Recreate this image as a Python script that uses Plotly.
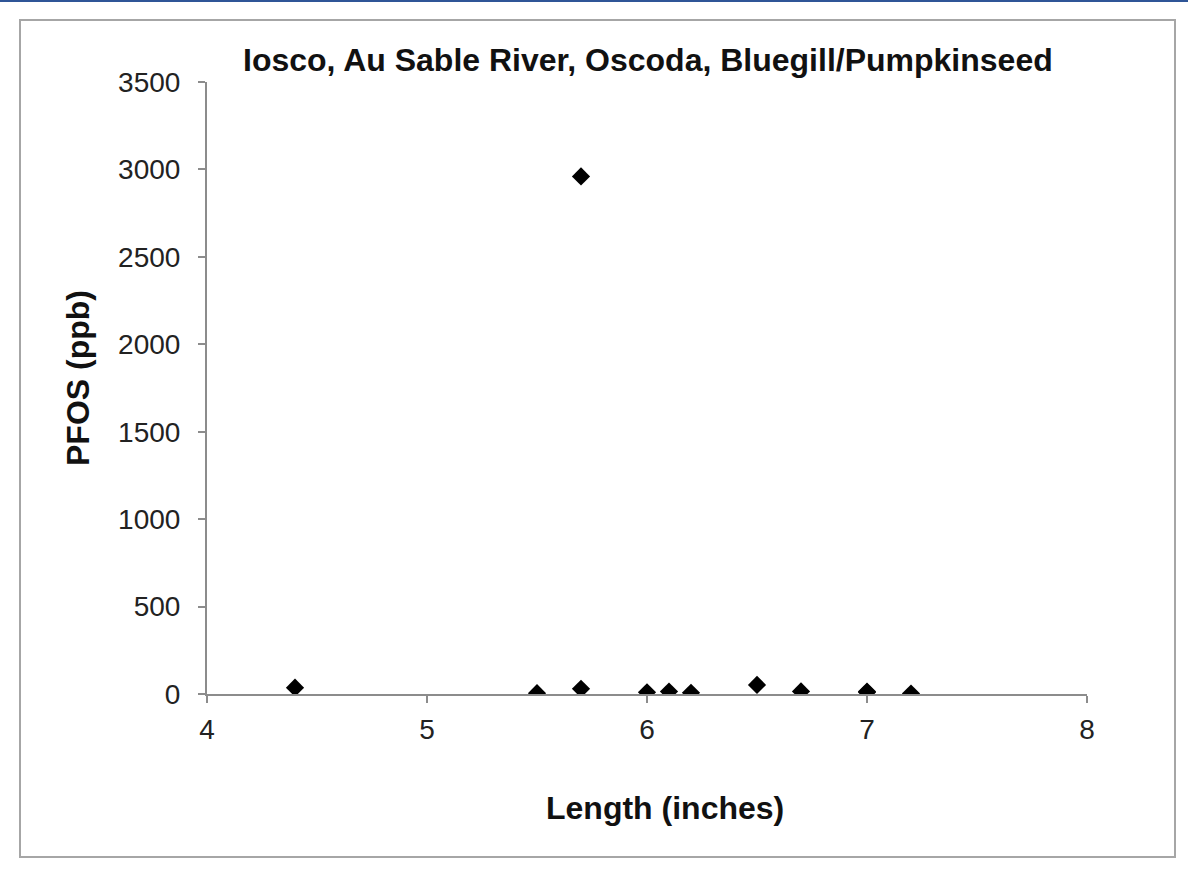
import plotly.graph_objects as go

# Fish length (inches) and PFOS concentration (ppb)
length_in = [4.4, 5.5, 5.7, 5.7, 6.0, 6.1, 6.2, 6.5, 6.7, 7.0, 7.0, 7.2]
pfos_ppb = [36, 5, 30, 2960, 10, 14, 7, 52, 15, 14, 10, 3]

title_text = "Iosco, Au Sable River, Oscoda, Bluegill/Pumpkinseed"
x_title = "Length (inches)"
y_title = "PFOS (ppb)"
x_ticks = [4, 5, 6, 7, 8]
y_ticks = [0, 500, 1000, 1500, 2000, 2500, 3000, 3500]

W, H = 1188, 886
L, R, T, B = 207, 1087, 82, 694  # plot area edges in pixels
pw, ph = R - L, B - T


def px(xp):
    return (xp - L) / pw


def py(yp):
    return (B - yp) / ph


font_family = "Liberation Sans, Arial, sans-serif"
axis_color = "#8c8c8c"

fig = go.Figure()
fig.add_trace(go.Scatter(
    x=length_in, y=pfos_ppb, mode="markers",
    marker=dict(symbol="diamond", size=14, color="black"),
    showlegend=False,
))

fig.update_layout(
    width=W, height=H,
    margin=dict(l=L, r=W - R, t=T, b=H - B),
    paper_bgcolor="white", plot_bgcolor="white",
    font=dict(family=font_family, color="#222"),
    xaxis=dict(
        range=[4, 8], tickvals=x_ticks, showgrid=False, zeroline=False,
        showline=True, linecolor=axis_color, linewidth=2,
        ticks="outside", ticklen=7, tickcolor=axis_color, tickwidth=2,
        tickfont=dict(size=28, color="#222"), ticklabelstandoff=2,
    ),
    yaxis=dict(
        range=[0, 3500], tickvals=y_ticks, showgrid=False, zeroline=False,
        showline=True, linecolor=axis_color, linewidth=2,
        ticks="outside", ticklen=7, tickcolor=axis_color, tickwidth=2,
        tickfont=dict(size=28, color="#222"), ticklabelstandoff=12,
    ),
    annotations=[
        dict(text=f"<b>{title_text}</b>", xref="paper", yref="paper",
             x=px(648), y=py(60), xanchor="center", yanchor="middle",
             showarrow=False, font=dict(size=32, color="#111")),
        dict(text=f"<b>{x_title}</b>", xref="paper", yref="paper",
             x=px(665), y=py(808), xanchor="center", yanchor="middle",
             showarrow=False, font=dict(size=32, color="#111")),
        dict(text=f"<b>{y_title}</b>", xref="paper", yref="paper",
             x=px(78), y=py(378), xanchor="center", yanchor="middle",
             showarrow=False, textangle=-90,
             font=dict(size=32, color="#111")),
    ],
    shapes=[
        # chart frame
        dict(type="rect", xref="paper", yref="paper",
             x0=px(20), x1=px(1175), y0=py(857), y1=py(20),
             line=dict(color="#a6a6a6", width=2), layer="below"),
        # page header rule
        dict(type="line", xref="paper", yref="paper",
             x0=px(0), x1=px(W), y0=py(1), y1=py(1),
             line=dict(color="#2f5597", width=2)),
    ],
)

fig.write_html("out.html")
